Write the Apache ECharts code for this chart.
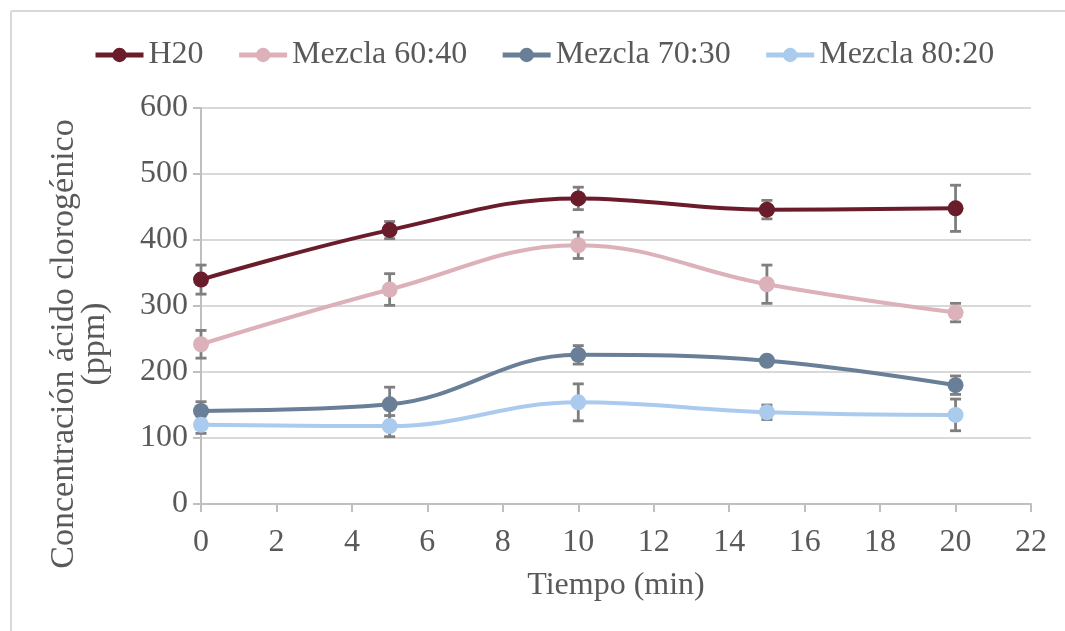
<!DOCTYPE html>
<html><head><meta charset="utf-8">
<script src="https://cdn.jsdelivr.net/npm/echarts@6/dist/echarts.min.js"></script>
<style>html,body{margin:0;padding:0;background:#fff}#c{width:1065px;height:631px}</style>
</head><body><div id="c"></div>
<script>
const times = [0, 5, 10, 15, 20];
const seriesNames = ['H20', 'Mezcla 60:40', 'Mezcla 70:30', 'Mezcla 80:20'];
const h20 = [340, 415, 463, 446, 448];
const h20Err = [22, 13, 17, 14, 35];
const m6040 = [242, 325, 392, 333, 290];
const m6040Err = [21, 24, 20, 29, 14];
const m7030 = [141, 151, 226, 217, 180];
const m7030Err = [14, 26, 14, 5, 14];
const m8020 = [120, 118, 154, 139, 135];
const m8020Err = [13, 16, 28, 11, 24];
const xTicks = [0, 2, 4, 6, 8, 10, 12, 14, 16, 18, 20, 22];
const yTicks = [0, 100, 200, 300, 400, 500, 600];
const colors = ['#6a1c2b', '#ddb1b9', '#687f97', '#abcbee'];

const values = [h20, m6040, m7030, m8020];
const errs = [h20Err, m6040Err, m7030Err, m8020Err];
const font = 'Liberation Serif';
const txt = '#595959';

const series = [];
values.forEach((v, i) => {
  series.push({
    name: seriesNames[i], type: 'line', smooth: 0.4,
    data: times.map((t, k) => [t, v[k]]),
    symbol: 'circle', symbolSize: 16,
    lineStyle: { color: colors[i], width: 4 },
    itemStyle: { color: colors[i] },
    z: 5
  });
});
values.forEach((v, i) => {
  series.push({
    name: 'err' + i, type: 'custom',
    data: times.map((t, k) => [t, v[k] - errs[i][k], v[k] + errs[i][k]]),
    renderItem: function (params, api) {
      const lo = api.coord([api.value(0), api.value(1)]);
      const hi = api.coord([api.value(0), api.value(2)]);
      const w = 5.5;
      const st = { stroke: '#7f7f7f', lineWidth: 2.8 };
      return { type: 'group', children: [
        { type: 'line', shape: { x1: lo[0], y1: lo[1], x2: hi[0], y2: hi[1] }, style: st },
        { type: 'line', shape: { x1: lo[0] - w, y1: lo[1], x2: lo[0] + w, y2: lo[1] }, style: st },
        { type: 'line', shape: { x1: hi[0] - w, y1: hi[1], x2: hi[0] + w, y2: hi[1] }, style: st }
      ]};
    },
    encode: { x: 0, y: [1, 2] },
    z: 3, silent: true
  });
});

const chart = echarts.init(document.getElementById('c'));
chart.setOption({
  animation: false,
  backgroundColor: '#fff',
  textStyle: { fontFamily: font },
  legend: {
    data: seriesNames, left: 88, top: 34,
    itemWidth: 48, itemHeight: 18, itemGap: 33,
    lineStyle: { width: 5 },
    textStyle: { fontFamily: font, fontSize: 32, color: txt }
  },
  grid: { left: 201, right: 34, top: 108, bottom: 127 },
  xAxis: {
    type: 'value', min: 0, max: 22, interval: 2,
    name: 'Tiempo (min)', nameLocation: 'middle', nameGap: 66,
    nameTextStyle: { fontFamily: font, fontSize: 32, color: txt },
    axisLine: { show: true, lineStyle: { color: '#bfbfbf', width: 2 } },
    axisTick: { show: true, length: 8, lineStyle: { color: '#bfbfbf', width: 2 } },
    axisLabel: { fontFamily: font, fontSize: 32, color: txt, margin: 23,
      formatter: v => xTicks.includes(v) ? String(v) : '' },
    splitLine: { show: false }
  },
  yAxis: {
    type: 'value', min: 0, max: 600, interval: 100,
    axisLine: { show: true, lineStyle: { color: '#bfbfbf', width: 2 } },
    axisTick: { show: true, length: 8, lineStyle: { color: '#bfbfbf', width: 2 } },
    axisLabel: { fontFamily: font, fontSize: 32, color: txt, margin: 13,
      formatter: v => yTicks.includes(v) ? String(v) : '' },
    splitLine: { show: true, lineStyle: { color: '#d9d9d9', width: 2 } }
  },
  graphic: [
    { type: 'line', shape: { x1: 11, y1: 11, x2: 11, y2: 631 }, style: { stroke: '#d9d9d9', lineWidth: 2 } },
    { type: 'line', shape: { x1: 11, y1: 11, x2: 1065, y2: 11 }, style: { stroke: '#d9d9d9', lineWidth: 2 } },
    { type: 'text', x: 80, y: 344, rotation: Math.PI / 2,
      style: { text: 'Concentración ácido clorogénico\n(ppm)', fontFamily: font, fontSize: 34,
        fill: txt, align: 'center', verticalAlign: 'middle', lineHeight: 31 } }
  ],
  series: series
});
</script></body></html>
